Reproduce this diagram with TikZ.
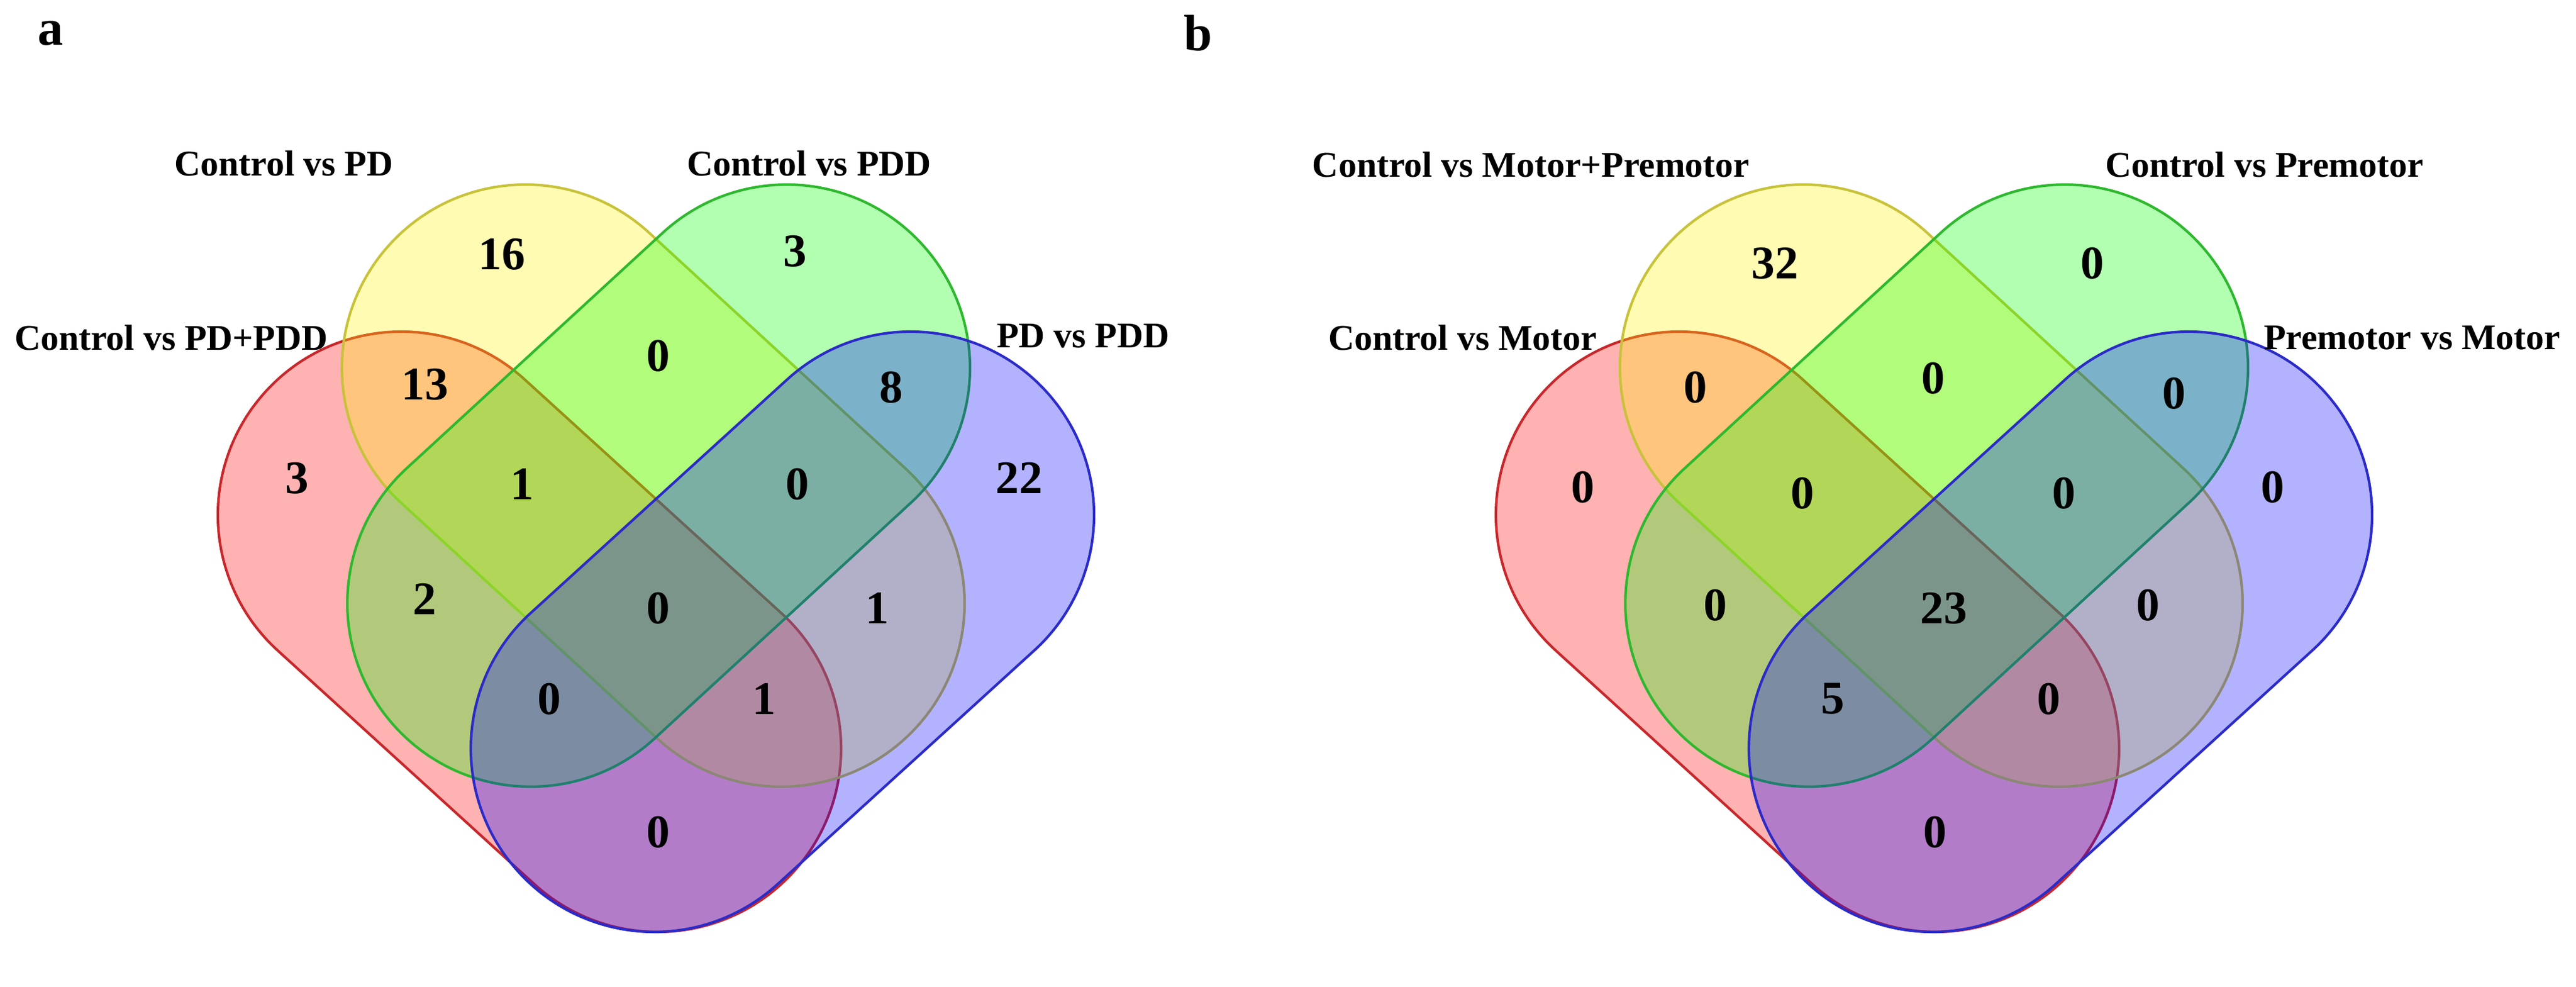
\documentclass[tikz,border=0pt]{standalone}
\usepackage{fontspec}
\setmainfont{Liberation Serif}
\begin{document}
\newcommand\vstad[5]{%
\pgfmathsetmacro\oxx{(#1)/100}\pgfmathsetmacro\oyy{-(#2)/100}%
\pgfmathsetmacro\dxx{((#3)-(#1))/100}\pgfmathsetmacro\dyy{-((#4)-(#2))/100}%
\pgfmathsetmacro\aang{atan2(\dyy,\dxx)}\pgfmathsetmacro\llen{veclen(\dxx,\dyy)}%
\path[#5,shift={(\oxx,\oyy)},rotate=\aang] (0,3.03) arc[start angle=90,end angle=270,radius=3.03] -- (\llen,-3.03) arc[start angle=-90,end angle=90,radius=3.03] -- cycle;}
\definecolor{rb}{RGB}{200,39,43}
\definecolor{yb}{RGB}{200,194,58}
\definecolor{gb}{RGB}{46,184,46}
\definecolor{bb}{RGB}{43,43,200}
\begin{tikzpicture}[
  num/.style={font=\fontsize{22}{24}\selectfont\bfseries},
  lab/.style={font=\fontsize{17}{19}\selectfont\bfseries},
  pan/.style={font=\fontsize{24}{26}\selectfont\bfseries},
  sred/.style={fill=red,fill opacity=0.3,draw=rb,draw opacity=1,line width=1.2pt},
  syel/.style={fill=yellow,fill opacity=0.3,draw=yb,draw opacity=1,line width=1.2pt},
  sgrn/.style={fill=green,fill opacity=0.3,draw=gb,draw opacity=1,line width=1.2pt},
  sblu/.style={fill=blue,fill opacity=0.3,draw=bb,draw opacity=1,line width=1.2pt}]
\useasboundingbox (0,0) rectangle (42.57,-16.30);
\foreach \s in {0,2112}{
  \vstad{663+\s}{851}{1087+\s}{1237}{sred}
  \vstad{868+\s}{608}{1291+\s}{997}{syel}
  \vstad{1300+\s}{608}{877+\s}{997}{sgrn}
  \vstad{1505+\s}{851}{1081+\s}{1237}{sblu}
}
% panel a
\node[pan] (pa) at (0.84,-0.55) {a};
\node[lab] (la1) at (4.69,-2.70) {Control vs PD};
\node[lab] (la2) at (13.37,-2.70) {Control vs PDD};
\node[lab] (la3) at (2.83,-5.58) {Control vs PD+PDD};
\node[lab] (la4) at (17.90,-5.55) {PD vs PDD};
\node[num] (a1) at (8.29,-4.20) {16};
\node[num] (a2) at (13.14,-4.15) {3};
\node[num] (a3) at (7.02,-6.35) {13};
\node[num] (a4) at (10.88,-5.88) {0};
\node[num] (a5) at (14.73,-6.40) {8};
\node[num] (a6) at (4.91,-7.90) {3};
\node[num] (a7) at (8.63,-8.00) {1};
\node[num] (a8) at (13.18,-8.00) {0};
\node[num] (a9) at (16.84,-7.90) {22};
\node[num] (a10) at (7.02,-9.90) {2};
\node[num] (a11) at (10.88,-10.05) {0};
\node[num] (a12) at (14.50,-10.05) {1};
\node[num] (a13) at (9.08,-11.55) {0};
\node[num] (a14) at (12.63,-11.55) {1};
\node[num] (a15) at (10.88,-13.75) {0};
% panel b
\node[pan] (pb) at (19.80,-0.55) {b};
\node[lab] (lb1) at (25.30,-2.72) {Control vs Motor+Premotor};
\node[lab] (lb2) at (37.42,-2.72) {Control vs Premotor};
\node[lab] (lb3) at (24.17,-5.58) {Control vs Motor};
\node[lab] (lb4) at (39.86,-5.58) {Premotor vs Motor};
\node[num] (b1) at (29.33,-4.35) {32};
\node[num] (b2) at (34.58,-4.35) {0};
\node[num] (b3) at (28.02,-6.40) {0};
\node[num] (b4) at (31.95,-6.25) {0};
\node[num] (b5) at (35.93,-6.50) {0};
\node[num] (b6) at (26.16,-8.05) {0};
\node[num] (b7) at (29.79,-8.15) {0};
\node[num] (b8) at (34.11,-8.15) {0};
\node[num] (b9) at (37.56,-8.05) {0};
\node[num] (b10) at (28.35,-10.00) {0};
\node[num] (b11) at (32.12,-10.05) {23};
\node[num] (b12) at (35.50,-10.00) {0};
\node[num] (b13) at (30.29,-11.55) {5};
\node[num] (b14) at (33.86,-11.55) {0};
\node[num] (b15) at (31.98,-13.75) {0};
\end{tikzpicture}
\end{document}
